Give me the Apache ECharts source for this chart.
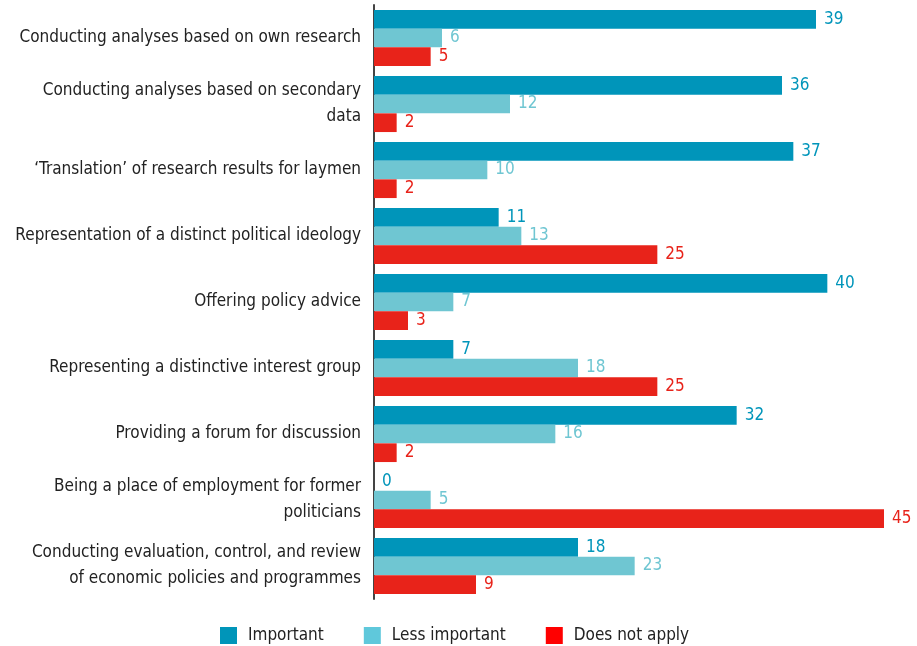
<!DOCTYPE html>
<html>
<head>
<meta charset="utf-8">
<script src="https://cdn.jsdelivr.net/npm/echarts@6/dist/echarts.min.js"></script>
<style>
  html, body { margin: 0; padding: 0; background: #fff; }
  #chart { width: 917px; height: 646px; }
</style>
</head>
<body>
<div id="chart"></div>
<script>
const categories = [
  "Conducting analyses based on own research",
  "Conducting analyses based on secondary\ndata",
  "‘Translation’ of research results for laymen",
  "Representation of a distinct political ideology",
  "Offering policy advice",
  "Representing a distinctive interest group",
  "Providing a forum for discussion",
  "Being a place of employment for former\npoliticians",
  "Conducting evaluation, control, and review\nof economic policies and programmes",
];
const important = [39, 36, 37, 11, 40, 7, 32, 0, 18];
const lessImportant = [6, 12, 10, 13, 7, 18, 16, 5, 23];
const doesNotApply = [5, 2, 2, 25, 3, 25, 2, 45, 9];

const FONT = '"Liberation Sans Narrow", "DejaVu Sans Condensed", sans-serif';

const chart = echarts.init(document.getElementById("chart"));

function makeSeries(name, data, color) {
  return {
    name: name,
    type: "bar",
    data: data,
    barGap: "0%",
    barCategoryGap: "15%",
    itemStyle: { color: color },
    label: {
      show: true,
      position: "right",
      distance: 8,
      color: color,
      fontFamily: FONT,
      fontSize: 17,
    },
  };
}

chart.setOption({
  animation: false,
  textStyle: { fontFamily: FONT },
  grid: { left: 374, right: 33, top: 5, bottom: 47 },
  legend: {
    top: 622,
    left: 215,
    itemWidth: 17,
    itemHeight: 17,
    itemGap: 40,
    icon: "rect",
    textStyle: {
      fontFamily: FONT,
      fontSize: 17,
      color: "#222",
      padding: [0, 0, 0, 6],
    },
    data: [
      { name: "Important", itemStyle: { color: "#0095b9" } },
      { name: "Less important", itemStyle: { color: "#5fc8db" } },
      { name: "Does not apply", itemStyle: { color: "#ff0000" } },
    ],
  },
  xAxis: {
    type: "value",
    min: 0,
    max: 45,
    show: false,
  },
  yAxis: {
    type: "category",
    data: categories,
    inverse: true,
    axisLine: { show: true, lineStyle: { color: "#444", width: 2 } },
    axisTick: { show: false },
    axisLabel: {
      margin: 13,
      color: "#222",
      fontFamily: FONT,
      fontSize: 17,
      lineHeight: 26,
    },
  },
  series: [
    makeSeries("Important", important, "#0095ba"),
    makeSeries("Less important", lessImportant, "#6fc6d2"),
    makeSeries("Does not apply", doesNotApply, "#e8231a"),
  ],
});
</script>
</body>
</html>
